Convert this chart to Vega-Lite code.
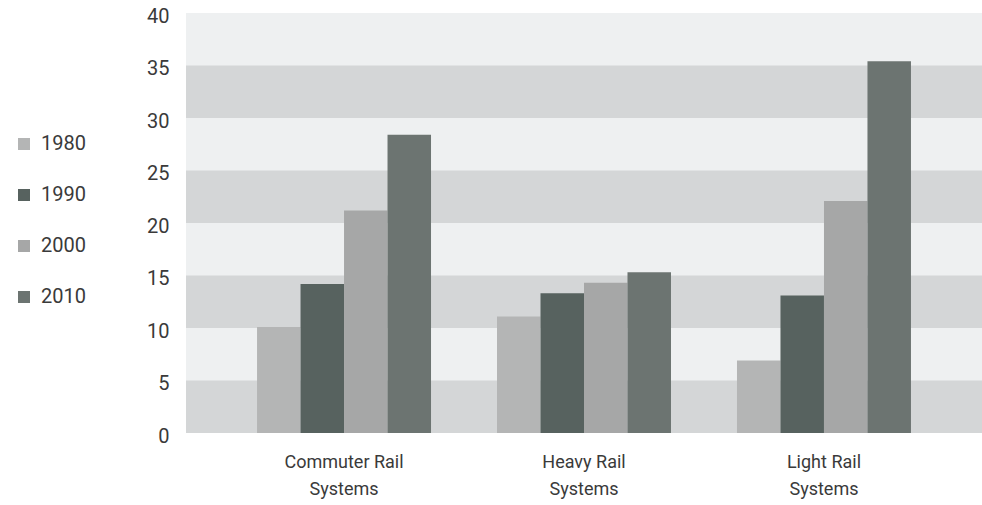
{
  "$schema": "https://vega.github.io/schema/vega-lite/v6.json",
  "width": 796,
  "height": 420,
  "autosize": {"type": "none"},
  "padding": {"left": 186, "top": 13, "right": 0, "bottom": 72},
  "background": "#ffffff",
  "config": {
    "view": {"stroke": null, "fill": "#eef0f1"},
    "font": "Roboto, sans-serif",
    "axis": {
      "title": null,
      "domain": false,
      "ticks": false,
      "grid": false,
      "labelColor": "#3a3a3a"
    }
  },
  "datasets": {
    "bars": [
      {"system": "Commuter Rail Systems", "year": "1980", "value": 10.1},
      {"system": "Commuter Rail Systems", "year": "1990", "value": 14.2},
      {"system": "Commuter Rail Systems", "year": "2000", "value": 21.2},
      {"system": "Commuter Rail Systems", "year": "2010", "value": 28.4},
      {"system": "Heavy Rail Systems", "year": "1980", "value": 11.1},
      {"system": "Heavy Rail Systems", "year": "1990", "value": 13.3},
      {"system": "Heavy Rail Systems", "year": "2000", "value": 14.3},
      {"system": "Heavy Rail Systems", "year": "2010", "value": 15.3},
      {"system": "Light Rail Systems", "year": "1980", "value": 6.9},
      {"system": "Light Rail Systems", "year": "1990", "value": 13.1},
      {"system": "Light Rail Systems", "year": "2000", "value": 22.1},
      {"system": "Light Rail Systems", "year": "2010", "value": 35.4}
    ],
    "bands": [
      {"lo": 0, "hi": 5},
      {"lo": 10, "hi": 15},
      {"lo": 20, "hi": 25},
      {"lo": 30, "hi": 35}
    ]
  },
  "layer": [
    {
      "data": {"name": "bands"},
      "mark": {"type": "rect", "color": "#d4d6d7"},
      "encoding": {
        "y": {
          "field": "lo",
          "type": "quantitative",
          "scale": {"domain": [0, 40]},
          "axis": {
            "values": [0, 5, 10, 15, 20, 25, 30, 35, 40],
            "labelPadding": 17,
            "labelOffset": 3,
            "labelFontSize": 20
          }
        },
        "y2": {"field": "hi"}
      }
    },
    {
      "data": {"name": "bars"},
      "mark": {"type": "bar"},
      "encoding": {
        "x": {
          "field": "system",
          "type": "nominal",
          "scale": {"paddingInner": 0.275, "paddingOuter": 0.296},
          "axis": {
            "labelAngle": 0,
            "labelPadding": 20,
            "labelFontSize": 18,
            "labelLineHeight": 27,
            "labelExpr": "[replace(datum.label, ' Systems', ''), 'Systems']"
          }
        },
        "xOffset": {"field": "year", "type": "nominal", "scale": {"paddingInner": 0, "paddingOuter": 0}},
        "y": {
          "field": "value",
          "type": "quantitative",
          "scale": {"domain": [0, 40]},
          "axis": {
            "values": [0, 5, 10, 15, 20, 25, 30, 35, 40],
            "labelPadding": 17,
            "labelOffset": 3,
            "labelFontSize": 20
          }
        },
        "color": {
          "field": "year",
          "type": "nominal",
          "scale": {"domain": ["1980", "1990", "2000", "2010"], "range": ["#b4b5b5", "#57625f", "#a6a7a7", "#6c7471"]},
          "legend": {
            "title": null,
            "orient": "none",
            "legendX": -172,
            "legendY": 121,
            "symbolType": "square",
            "symbolSize": 144,
            "symbolStrokeWidth": 0,
            "labelFontSize": 20,
            "labelColor": "#3a3a3a",
            "labelOffset": 7,
            "rowPadding": 31,
            "padding": 0
          }
        }
      }
    }
  ]
}
